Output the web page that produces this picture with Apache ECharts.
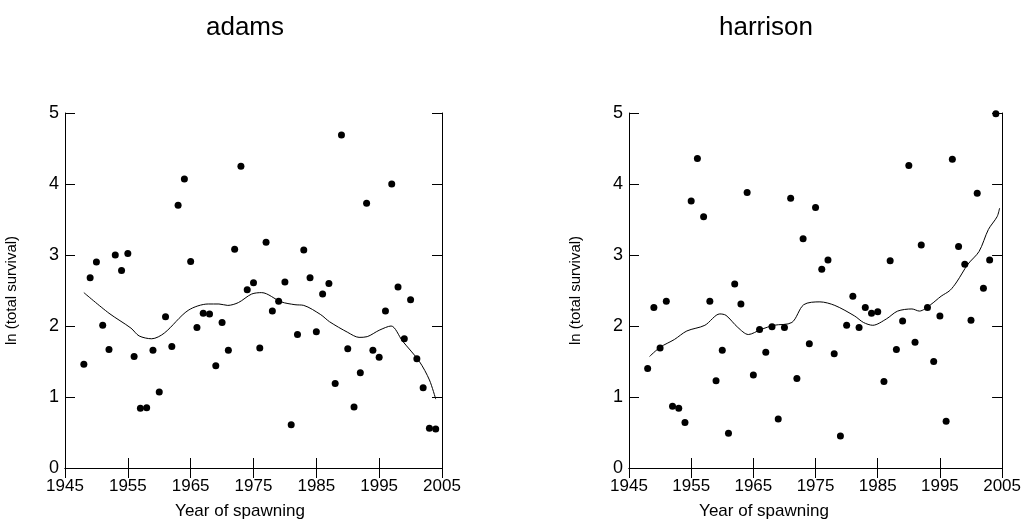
<!DOCTYPE html>
<html>
<head>
<meta charset="utf-8">
<script src="https://cdn.jsdelivr.net/npm/echarts@6/dist/echarts.min.js"></script>
<style>
html,body{margin:0;padding:0;background:#fff;}
#chart{width:1024px;height:525px;}
</style>
</head>
<body>
<div id="chart"></div>
<script>
const panelTitles = ['adams', 'harrison'];
const xTitle = 'Year of spawning';
const yTitle = 'ln (total survival)';

const years = [1948,1949,1950,1951,1952,1953,1954,1955,1956,1957,1958,1959,1960,1961,1962,1963,1964,1965,1966,1967,1968,1969,1970,1971,1972,1973,1974,1975,1976,1977,1978,1979,1980,1981,1982,1983,1984,1985,1986,1987,1988,1989,1990,1991,1992,1993,1994,1995,1996,1997,1998,1999,2000,2001,2002,2003,2004];

const adamsValues = [1.46,2.68,2.90,2.01,1.67,3.00,2.78,3.02,1.57,0.84,0.85,1.66,1.07,2.13,1.71,3.70,4.07,2.91,1.98,2.18,2.17,1.44,2.05,1.66,3.08,4.25,2.51,2.61,1.69,3.18,2.21,2.35,2.62,0.61,1.88,3.07,2.68,1.92,2.45,2.60,1.19,4.69,1.68,0.86,1.34,3.73,1.66,1.56,2.21,4.00,2.55,1.82,2.37,1.54,1.13,0.56,0.55];

const harrisonValues = [1.40,2.26,1.69,2.35,0.87,0.84,0.64,3.76,4.36,3.54,2.35,1.23,1.66,0.49,2.59,2.31,3.88,1.31,1.95,1.63,1.99,0.69,1.98,3.80,1.26,3.23,1.75,3.67,2.80,2.93,1.61,0.45,2.01,2.42,1.98,2.26,2.18,2.20,1.22,2.92,1.67,2.07,4.26,1.77,3.14,2.26,1.50,2.14,0.66,4.35,3.12,2.87,2.08,3.87,2.53,2.93,4.99];

const adamsSmoothX = [1948,1952,1955.5,1956.8,1958.8,1960.8,1964.6,1967.8,1969.5,1970.9,1972.6,1974.7,1976.3,1979.4,1981.6,1983,1985.7,1987.1,1990,1991.8,1993.1,1995,1996.9,1998.7,2001.4,2003,2004];
const adamsSmoothY = [2.47,2.18,1.97,1.86,1.82,1.90,2.22,2.31,2.31,2.29,2.33,2.45,2.47,2.34,2.30,2.29,2.16,2.06,1.91,1.84,1.85,1.94,2.00,1.79,1.50,1.24,0.97];

const harrisonSmoothX = [1948.3,1950,1952.3,1954.3,1957.2,1959.6,1960.6,1962.5,1964.2,1966.2,1968.3,1971.2,1973.1,1975.7,1978.1,1981.3,1982.7,1984.2,1986.4,1988.2,1990.5,1991.7,1993.5,1995.2,1996.6,1997.7,1999.5,2001.3,2002.8,2004.2,2004.6];
const harrisonSmoothY = [1.57,1.70,1.81,1.93,2.01,2.17,2.15,1.98,1.88,1.95,2.01,2.05,2.30,2.34,2.29,2.14,2.05,2.01,2.10,2.21,2.24,2.21,2.30,2.42,2.50,2.62,2.87,3.05,3.36,3.54,3.66];

const xTicks = {min: 1945, max: 2005, interval: 10};
const yTicks = {min: 0, max: 5, interval: 1};

const FONT = '"Liberation Sans", Arial, sans-serif';

function pairs(xs, ys) { return xs.map((x, i) => [x, ys[i]]); }

const grids = [
  {left: 65, top: 113, width: 377, height: 355},
  {left: 629, top: 113, width: 377, height: 355}
];

const xAxes = [], yAxes = [], series = [];
const tickStyle = {show: true, inside: true, length: 10, lineStyle: {color: '#000', width: 1}};
const lineStyle = {show: true, lineStyle: {color: '#000', width: 1}};

grids.forEach((g, i) => {
  xAxes.push({
    gridIndex: i, type: 'value', position: 'bottom',
    min: xTicks.min, max: xTicks.max, interval: xTicks.interval,
    axisLine: lineStyle, axisTick: tickStyle, splitLine: {show: false},
    axisLabel: {color: '#000', fontFamily: FONT, fontSize: 17, margin: 10, formatter: v => String(v)}
  });
  xAxes.push({
    gridIndex: i, type: 'value', position: 'top',
    min: xTicks.min, max: xTicks.max, interval: xTicks.interval,
    axisLine: lineStyle, axisTick: tickStyle, splitLine: {show: false},
    axisLabel: {show: false}
  });
  yAxes.push({
    gridIndex: i, type: 'value', position: 'left',
    min: yTicks.min, max: yTicks.max, interval: yTicks.interval,
    axisLine: lineStyle, axisTick: tickStyle, splitLine: {show: false},
    axisLabel: {color: '#000', fontFamily: FONT, fontSize: 18, margin: 6},
    name: yTitle, nameLocation: 'middle', nameRotate: 90, nameGap: 46,
    nameTextStyle: {color: '#000', fontFamily: FONT, fontSize: 15}
  });
  yAxes.push({
    gridIndex: i, type: 'value', position: 'right',
    min: yTicks.min, max: yTicks.max, interval: yTicks.interval,
    axisLine: lineStyle, axisTick: tickStyle, splitLine: {show: false},
    axisLabel: {show: false}
  });
});

const panels = [
  {values: adamsValues, sx: adamsSmoothX, sy: adamsSmoothY},
  {values: harrisonValues, sx: harrisonSmoothX, sy: harrisonSmoothY}
];

panels.forEach((p, i) => {
  series.push({
    type: 'scatter', xAxisIndex: i * 2, yAxisIndex: i * 2,
    data: pairs(years, p.values), symbol: 'circle', symbolSize: 7,
    itemStyle: {color: '#000', opacity: 1}, silent: true
  });
  series.push({
    type: 'line', xAxisIndex: i * 2, yAxisIndex: i * 2,
    data: pairs(p.sx, p.sy), showSymbol: false, smooth: 0.3,
    lineStyle: {color: '#000', width: 1}, silent: true
  });
});

const chart = echarts.init(document.getElementById('chart'), null, {renderer: 'canvas'});
chart.setOption({
  animation: false,
  backgroundColor: '#fff',
  grid: grids,
  xAxis: xAxes,
  yAxis: yAxes,
  series: series,
  graphic: [
    {type: 'text', x: 245, y: 28, style: {text: panelTitles[0], font: '26px ' + FONT, fill: '#000', align: 'center', verticalAlign: 'middle'}},
    {type: 'text', x: 766, y: 28, style: {text: panelTitles[1], font: '26px ' + FONT, fill: '#000', align: 'center', verticalAlign: 'middle'}},
    {type: 'text', x: 240, y: 511, style: {text: xTitle, font: '17px ' + FONT, fill: '#000', align: 'center', verticalAlign: 'middle'}},
    {type: 'text', x: 764, y: 511, style: {text: xTitle, font: '17px ' + FONT, fill: '#000', align: 'center', verticalAlign: 'middle'}}
  ]
});
</script>
</body>
</html>
